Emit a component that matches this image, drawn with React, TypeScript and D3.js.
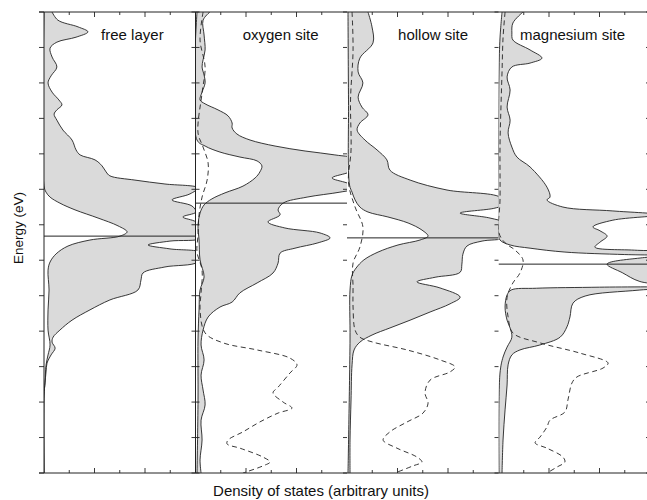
import React, { useEffect, useRef } from 'react';
import * as d3 from 'd3';

// each point is [energy (eV), density of states (arb. units)]
type Pt = [number, number];

const panelNames = ['free layer', 'oxygen site', 'hollow site', 'magnesium site'];
const labelDos = [3.5, 3.37, 3.41, 2.93];
const fermiLevels = [-2.32, -1.39, -2.37, -3.11];
const energyTicks = d3.range(-9, 5);
const dosTicks = [1, 2, 3, 4, 5];

const freeOuter: Pt[] = [
  [4.0, 0.32], [3.77, 0.55], [3.58, 1.35], [3.44, 1.74], [3.29, 1.27], [3.15, 0.51], [2.98, 0.24],
  [2.73, 0.32], [2.45, 0.51], [2.2, 0.28], [2.0, 0.16], [1.74, 0.32], [1.52, 0.59], [1.38, 0.71],
  [1.24, 0.51], [1.12, 0.4], [0.95, 0.51], [0.67, 0.75], [0.39, 1.11], [0.11, 1.27], [-0.03, 1.43],
  [-0.17, 2.02], [-0.34, 2.3], [-0.51, 2.46], [-0.62, 2.61], [-0.74, 3.6], [-0.85, 4.79], [-0.96, 6.1],
  [-1.13, 5.78], [-1.3, 5.07], [-1.47, 5.86], [-1.64, 6.02], [-1.78, 5.5], [-1.92, 6.02], [-2.15, 6.26],
  [-2.37, 6.26], [-2.46, 4.99], [-2.57, 4.12], [-2.68, 4.99], [-2.8, 6.26], [-3.05, 6.1], [-3.19, 4.79],
  [-3.36, 3.92], [-3.56, 3.84], [-3.84, 3.72], [-4.12, 2.61], [-4.4, 1.82], [-4.69, 1.11], [-4.97, 0.63],
  [-5.17, 0.36], [-5.31, 0.32], [-5.48, 0.44], [-5.67, 0.28], [-5.9, 0.12], [-6.15, 0.08], [-6.46, 0.04],
  [-6.8, 0], [-9, 0],
];
const freeInner: Pt[] = [
  [4, 0], [-0.9, 0], [-1.08, 0.08], [-1.22, 0.24], [-1.39, 0.63], [-1.58, 1.23], [-1.81, 2.14],
  [-2.03, 2.93], [-2.2, 3.29], [-2.32, 3.01], [-2.43, 1.82], [-2.6, 0.95], [-2.82, 0.48], [-3.05, 0.24],
  [-3.28, 0.16], [-3.84, 0.2], [-4.4, 0.16], [-4.97, 0.16], [-5.39, 0.24], [-5.67, 0.16], [-5.96, 0.08],
  [-6.46, 0.04], [-6.8, 0], [-9, 0],
];

const oxygenOuter: Pt[] = [
  [4.0, 0.57], [3.77, 0.3], [3.35, 0.34], [2.93, 0.38], [2.65, 0.3], [2.45, 0.26], [2.22, 0.34],
  [2.0, 0.38], [1.74, 0.26], [1.52, 0.18], [1.41, 0.38], [1.24, 0.89], [1.07, 1.29], [0.87, 1.45],
  [0.73, 1.45], [0.56, 1.64], [0.39, 2.16], [0.22, 3.15], [0.08, 4.34], [-0.03, 5.52], [-0.17, 6.51],
  [-0.4, 6.59], [-0.54, 6.0], [-0.68, 5.41], [-0.82, 6.0], [-0.96, 6.51], [-1.08, 5.72], [-1.22, 4.42],
  [-1.39, 3.47], [-1.58, 3.27], [-1.72, 3.35], [-1.92, 2.87], [-2.09, 3.54], [-2.23, 4.93], [-2.37, 5.33],
  [-2.51, 4.85], [-2.66, 3.94], [-2.8, 3.35], [-3.08, 3.27], [-3.36, 3.07], [-3.64, 2.44], [-3.92, 1.76],
  [-4.18, 1.45], [-4.32, 0.97], [-4.6, 0.5], [-4.97, 0.3], [-5.39, 0.22], [-5.81, 0.34], [-6.24, 0.22],
  [-6.66, 0.3], [-7.08, 0.38], [-7.51, 0.22], [-8.07, 0.26], [-8.63, 0.18], [-9, 0.22],
];
const oxygenInner: Pt[] = [
  [4, 0.06], [0.39, 0.06], [0.22, 0.38], [0.05, 0.97], [-0.09, 1.76], [-0.2, 2.44], [-0.34, 2.63],
  [-0.51, 2.55], [-0.68, 2.36], [-0.91, 1.88], [-1.1, 1.17], [-1.27, 0.65], [-1.44, 0.34], [-1.67, 0.18],
  [-2.01, 0.1], [-2.43, 0.14], [-2.99, 0.18], [-3.47, 0.34], [-3.84, 0.18], [-4.4, 0.14], [-5.25, 0.1],
  [-6.94, 0.1], [-9, 0.06],
];
const oxygenDashed: Pt[] = [
  [4, 0.3], [3.21, 0.18], [2.45, 0.38], [1.72, 0.26], [0.59, 0.1], [0.19, 0.3], [-0.26, 0.5],
  [-0.74, 0.46], [-1.22, 0.26], [-1.72, 0.14], [-2.29, 0.1], [-2.77, 0.06], [-3.28, 0.26], [-3.92, 0.22],
  [-4.4, 0.18], [-5.05, 0.38], [-5.33, 1.09], [-5.53, 2.44], [-5.76, 3.74], [-5.95, 4.02], [-6.18, 3.74],
  [-6.58, 3.27], [-6.74, 3.07], [-7.0, 3.47], [-7.17, 3.82], [-7.31, 3.27], [-7.56, 2.55], [-7.84, 1.88],
  [-8.07, 1.29], [-8.18, 1.25], [-8.3, 1.76], [-8.55, 2.67], [-8.69, 2.95], [-8.8, 2.67], [-9.0, 1.88],
];

const hollowOuter: Pt[] = [
  [4, 0.83], [3.58, 0.99], [3.13, 1.03], [2.7, 0.51], [2.31, 0.44], [2.0, 0.63], [1.6, 0.44],
  [1.32, 0.59], [1.1, 0.83], [0.87, 0.51], [0.67, 0.4], [0.39, 0.71], [0.11, 1.19], [-0.17, 1.58],
  [-0.46, 1.7], [-0.74, 2.5], [-1.02, 3.96], [-1.22, 6.06], [-1.42, 6.26], [-1.53, 5.86], [-1.67, 4.48],
  [-1.81, 5.66], [-1.95, 6.26], [-2.2, 6.46], [-2.37, 6.26], [-2.46, 5.35], [-2.6, 4.75], [-2.83, 4.59],
  [-3.11, 4.55], [-3.34, 4.48], [-3.48, 3.49], [-3.61, 2.77], [-3.78, 3.68], [-4.04, 4.48], [-4.23, 4.08],
  [-4.46, 3.29], [-4.69, 2.5], [-4.91, 1.7], [-5.11, 0.99], [-5.31, 0.51], [-5.53, 0.28], [-5.95, 0.2],
  [-6.94, 0.16], [-8.07, 0.12], [-9, 0.12],
];
const hollowInner: Pt[] = [
  [4, 0.04], [1.52, 0.06], [-0.88, 0.1], [-1.08, 0.2], [-1.3, 0.32], [-1.5, 0.51], [-1.64, 0.83],
  [-1.78, 1.62], [-1.95, 2.42], [-2.15, 2.97], [-2.32, 3.21], [-2.43, 2.89], [-2.57, 2.02], [-2.77, 1.23],
  [-2.99, 0.67], [-3.22, 0.36], [-3.42, 0.2], [-3.84, 0.12], [-5.25, 0.12], [-9, 0.04],
];
const hollowDashed: Pt[] = [
  [4, 0.2], [2.93, 0.24], [1.52, 0.14], [0.11, 0.16], [-0.82, 0.06], [-1.5, 0.32], [-2.06, 0.63],
  [-2.63, 0.51], [-3.08, 0.24], [-3.76, 0.24], [-4.32, 0.24], [-4.97, 0.32], [-5.17, 0.51], [-5.31, 1.03],
  [-5.53, 2.38], [-5.81, 3.68], [-6.01, 4.28], [-6.15, 4.08], [-6.38, 3.29], [-6.74, 3.09], [-7.03, 3.21],
  [-7.31, 3.01], [-7.56, 2.38], [-7.84, 1.7], [-8.07, 1.43], [-8.3, 1.98], [-8.55, 2.77], [-8.69, 2.97],
  [-8.8, 2.61], [-9, 1.9],
];

const magOuter: Pt[] = [
  [4, 0.97], [3.69, 0.57], [3.41, 0.53], [3.21, 0.57], [2.93, 1.25], [2.7, 1.72], [2.56, 1.25],
  [2.45, 0.53], [2.17, 0.34], [1.8, 0.46], [1.32, 0.34], [0.95, 0.46], [0.59, 0.38], [0.19, 0.53],
  [-0.09, 0.73], [-0.37, 1.25], [-0.94, 1.92], [-1.22, 2.04], [-1.3, 1.92], [-1.5, 2.55], [-1.61, 4.53],
  [-1.72, 6.4], [-1.87, 4.53], [-2.06, 3.74], [-2.17, 4.02], [-2.32, 4.3], [-2.49, 4.02], [-2.63, 3.82],
  [-2.72, 5.5], [-2.8, 7.5], [-3.11, 7.8], [-3.45, 7.8], [-3.7, 7.8], [-3.84, 5.6], [-4.01, 3.43],
  [-4.21, 2.95], [-4.6, 2.83], [-4.88, 2.71], [-5.17, 2.44], [-5.39, 1.64], [-5.53, 0.85], [-5.67, 0.53],
  [-5.95, 0.38], [-6.52, 0.34], [-7.22, 0.26], [-8.07, 0.18], [-9, 0.14],
];
const magInner: Pt[] = [
  [4, 0.14], [3.27, 0.06], [2.31, 0.02], [0.11, 0], [-2.23, 0], [-2.43, 0.06], [-2.57, 0.46],
  [-2.66, 1.25], [-2.77, 2.63], [-2.84, 5.0], [-2.87, 7.0], [-2.93, 5.7], [-3.11, 4.3], [-3.35, 4.9],
  [-3.6, 5.6], [-3.72, 7.0], [-3.76, 4.0], [-3.79, 1.5], [-3.84, 0.5], [-3.98, 0.34], [-4.32, 0.26],
  [-4.69, 0.34], [-4.91, 0.46], [-5.17, 0.53], [-5.45, 0.34], [-5.73, 0.18], [-6.18, 0.06], [-9, 0.02],
];
const magDashed: Pt[] = [
  [4, 0.26], [3.27, 0.18], [2.31, 0.14], [1.38, 0.1], [0.25, 0.06], [-1.3, 0.06], [-2.23, 0.02],
  [-2.51, 0.26], [-2.71, 0.65], [-2.99, 0.97], [-3.36, 0.85], [-3.64, 0.57], [-4.04, 0.34], [-4.6, 0.38],
  [-5.05, 0.57], [-5.33, 1.64], [-5.62, 3.23], [-5.9, 4.34], [-6.04, 4.14], [-6.29, 3.11], [-6.46, 2.91],
  [-6.94, 2.75], [-7.28, 2.63], [-7.51, 2.04], [-7.7, 1.92], [-7.99, 1.64], [-8.15, 1.45], [-8.3, 1.92],
  [-8.55, 2.55], [-8.69, 2.63], [-8.83, 2.32], [-9, 1.92],
];

const outers = [freeOuter, oxygenOuter, hollowOuter, magOuter];
const inners = [freeInner, oxygenInner, hollowInner, magInner];
const dashes: (Pt[] | null)[] = [null, oxygenDashed, hollowDashed, magDashed];

const FONT = '"Liberation Sans", Arial, Helvetica, sans-serif';
const INK = '#222';

export default function App() {
  const svgRef = useRef<SVGSVGElement>(null);

  useEffect(() => {
    const svg = d3.select(svgRef.current);
    svg.selectAll('*').remove();

    const top = 12, bottom = 473, left = 44, panelW = 151.5;
    const right = left + 4 * panelW;
    const y = d3.scaleLinear().domain([4, -9]).range([top, bottom]);
    const defs = svg.append('defs');

    panelNames.forEach((name, i) => {
      const x0 = left + i * panelW;
      const x = d3.scaleLinear().domain([0, 6]).range([x0, x0 + panelW]);

      defs.append('clipPath').attr('id', `clip${i}`)
        .append('rect').attr('x', x0).attr('y', top).attr('width', panelW).attr('height', bottom - top);
      const g = svg.append('g').attr('clip-path', `url(#clip${i})`);

      const line = d3.line<Pt>().x(d => x(d[1])).y(d => y(d[0])).curve(d3.curveCatmullRom.alpha(0.5));
      const outerD = line(outers[i]) as string;
      const innerRev = line([...inners[i]].reverse()) as string;

      // filled band between inner and outer curves
      g.append('path').attr('d', outerD + 'L' + innerRev.slice(1) + 'Z')
        .attr('fill', '#dadada').attr('stroke', 'none');

      // Fermi level
      g.append('line')
        .attr('x1', x0).attr('x2', x0 + panelW)
        .attr('y1', y(fermiLevels[i])).attr('y2', y(fermiLevels[i]))
        .attr('stroke', INK).attr('stroke-width', 1);

      g.append('path').attr('d', outerD).attr('fill', 'none').attr('stroke', INK).attr('stroke-width', 0.9);
      g.append('path').attr('d', line(inners[i])).attr('fill', 'none').attr('stroke', INK).attr('stroke-width', 0.9);

      const ds = dashes[i];
      if (ds) {
        g.append('path').attr('d', line(ds)).attr('fill', 'none')
          .attr('stroke', INK).attr('stroke-width', 0.9).attr('stroke-dasharray', '5,3.5');
      }

      // top / bottom ticks
      dosTicks.forEach(t => {
        const len = t % 2 === 0 ? 5 : 3;
        svg.append('line').attr('x1', x(t)).attr('x2', x(t)).attr('y1', top).attr('y2', top + len)
          .attr('stroke', INK).attr('stroke-width', 0.9);
        svg.append('line').attr('x1', x(t)).attr('x2', x(t)).attr('y1', bottom).attr('y2', bottom - len)
          .attr('stroke', INK).attr('stroke-width', 0.9);
      });

      // right-side energy ticks of each panel, pointing inward
      energyTicks.forEach(e => {
        svg.append('line').attr('x1', x0 + panelW - 4).attr('x2', x0 + panelW)
          .attr('y1', y(e)).attr('y2', y(e)).attr('stroke', INK).attr('stroke-width', 0.9);
      });

      svg.append('text')
        .attr('x', x(labelDos[i])).attr('y', 40)
        .attr('text-anchor', 'middle')
        .style('font-family', FONT).style('font-size', '15px').attr('fill', '#111')
        .text(name);
    });

    // left energy axis, outward ticks
    energyTicks.forEach(e => {
      svg.append('line').attr('x1', left - 5).attr('x2', left).attr('y1', y(e)).attr('y2', y(e))
        .attr('stroke', INK).attr('stroke-width', 0.9);
      svg.append('line').attr('x1', left + panelW).attr('x2', left + panelW + 4).attr('y1', y(e)).attr('y2', y(e))
        .attr('stroke', INK).attr('stroke-width', 0.9);
    });

    // frame
    const frame = svg.append('g').attr('stroke', INK).attr('stroke-width', 1).attr('fill', 'none');
    frame.append('line').attr('x1', left - 5).attr('x2', right).attr('y1', top).attr('y2', top);
    frame.append('line').attr('x1', left - 5).attr('x2', right).attr('y1', bottom).attr('y2', bottom);
    frame.append('line').attr('x1', left).attr('x2', left).attr('y1', top).attr('y2', bottom);
    frame.append('line').attr('x1', left + panelW).attr('x2', left + panelW).attr('y1', top).attr('y2', bottom);
    frame.append('line').attr('x1', right).attr('x2', right).attr('y1', top).attr('y2', bottom);

    svg.append('text')
      .attr('transform', `translate(23,228) rotate(-90)`)
      .attr('text-anchor', 'middle')
      .style('font-family', FONT).style('font-size', '13.5px').attr('fill', '#111')
      .text('Energy (eV)');

    svg.append('text')
      .attr('x', 321).attr('y', 496)
      .attr('text-anchor', 'middle')
      .style('font-family', FONT).style('font-size', '15px').attr('fill', '#111')
      .text('Density of states (arbitrary units)');
  }, []);

  return (
    <div style={{ position: 'absolute', left: 0, top: 0 }}>
      <svg ref={svgRef} width={647} height={500} style={{ display: 'block', background: '#fff' }} />
    </div>
  );
}
